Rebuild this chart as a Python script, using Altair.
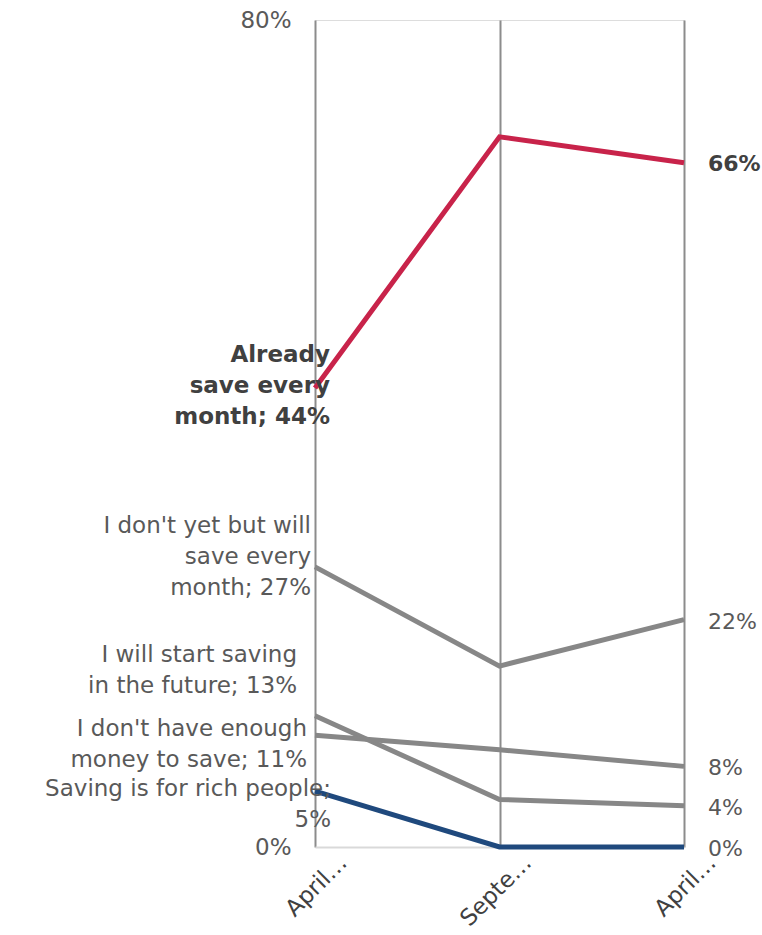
import altair as alt
import pandas as pd

periods = ["April 2020", "September 2020", "April 2021"]
series = [
    "Already save every month",
    "I don't yet but will save every month",
    "I will start saving in the future",
    "I don't have enough money to save",
    "Saving is for rich people",
]
already = [0.444, 0.687, 0.662]
will_save = [0.271, 0.175, 0.22]
future = [0.127, 0.046, 0.04]
not_enough = [0.108, 0.094, 0.078]
rich = [0.054, 0.0, 0.0]
left_labels = [
    "Already\nsave every\nmonth; 44%",
    "I don't yet but will\nsave every\nmonth; 27%",
    "I will start saving\nin the future; 13%",
    "I don't have enough\nmoney to save; 11%",
    "Saving is for rich people;\n5%",
]
colors = ["#C8234A", "#878787", "#878787", "#878787", "#1F497D"]

values = [already, will_save, future, not_enough, rich]
rows = []
for s, vals in zip(series, values):
    for p, v in zip(periods, vals):
        rows.append({"series": s, "period": p, "value": v})
df = pd.DataFrame(rows)

left_df = pd.DataFrame({"series": series, "period": periods[0],
                        "value": [v[0] for v in values], "label": left_labels})
right_df = pd.DataFrame({"series": series, "period": periods[-1],
                         "value": [v[-1] for v in values]})

FONT = "DejaVu Sans"
x_enc = alt.X("period:N", sort=periods, title=None,
              scale=alt.Scale(padding=0),
              axis=alt.Axis(labelAngle=-45, labelExpr="substring(datum.label, 0, 5) + '…'",
                            labelFontSize=23, labelColor="#404040", labelFont=FONT,
                            grid=True, gridColor="#8c8c8c", gridWidth=2,
                            domainColor="#d9d9d9", domainWidth=2, ticks=False,
                            labelPadding=4, labelOffset=20))
y_enc = alt.Y("value:Q", title=None,
              scale=alt.Scale(domain=[0, 0.8], nice=False),
              axis=alt.Axis(values=[0, 0.8], format=".0%", domain=False, ticks=False,
                            grid=False, labelFontSize=23, labelColor="#595959",
                            labelFont=FONT, labelPadding=24))

order_series = [series[1], series[2], series[3], series[4], series[0]]
line_layers = []
for s in order_series:
    line_layers.append(
        alt.Chart(df[df.series == s]).mark_line(strokeWidth=5,
            color=colors[series.index(s)]).encode(
            x=x_enc, y=y_enc)
    )

left_offsets = [(15, -33, "bold", "#404040"), (-4, -41, "normal", "#595959"),
                (-18, -61, "normal", "#595959"), (-8, -6, "normal", "#595959"),
                (16, -2, "normal", "#595959")]
text_layers = []
for i, s in enumerate(series):
    dx, dy, fw, col = left_offsets[i]
    text_layers.append(
        alt.Chart(left_df[left_df.series == s]).mark_text(
            align="right", baseline="middle", dx=dx, dy=dy, fontSize=23,
            font=FONT, fontWeight=fw, color=col, lineHeight=31, lineBreak="\n"
        ).encode(x=alt.X("period:N", sort=periods), y="value:Q", text="label:N")
    )

right_bold = alt.Chart(right_df[right_df.series == series[0]]).mark_text(
    align="left", baseline="middle", dx=24, dy=1, fontSize=22, font=FONT,
    fontWeight="bold", color="#404040"
).encode(x=alt.X("period:N", sort=periods), y="value:Q",
         text=alt.Text("value:Q", format=".0%"))
right_norm = alt.Chart(right_df[right_df.series != series[0]]).mark_text(
    align="left", baseline="middle", dx=24, dy=2, fontSize=22, font=FONT,
    color="#595959"
).encode(x=alt.X("period:N", sort=periods), y="value:Q",
         text=alt.Text("value:Q", format=".0%"))

chart = alt.layer(*line_layers, *text_layers, right_bold, right_norm).properties(
    width=369, height=827,
    autosize=alt.AutoSizeParams(type="none"),
    padding={"left": 315, "top": 20, "right": 78, "bottom": 88},
).configure_view(stroke=None).configure(background="white")

chart.save("out.html", embed_options={"renderer": "svg", "actions": False})
